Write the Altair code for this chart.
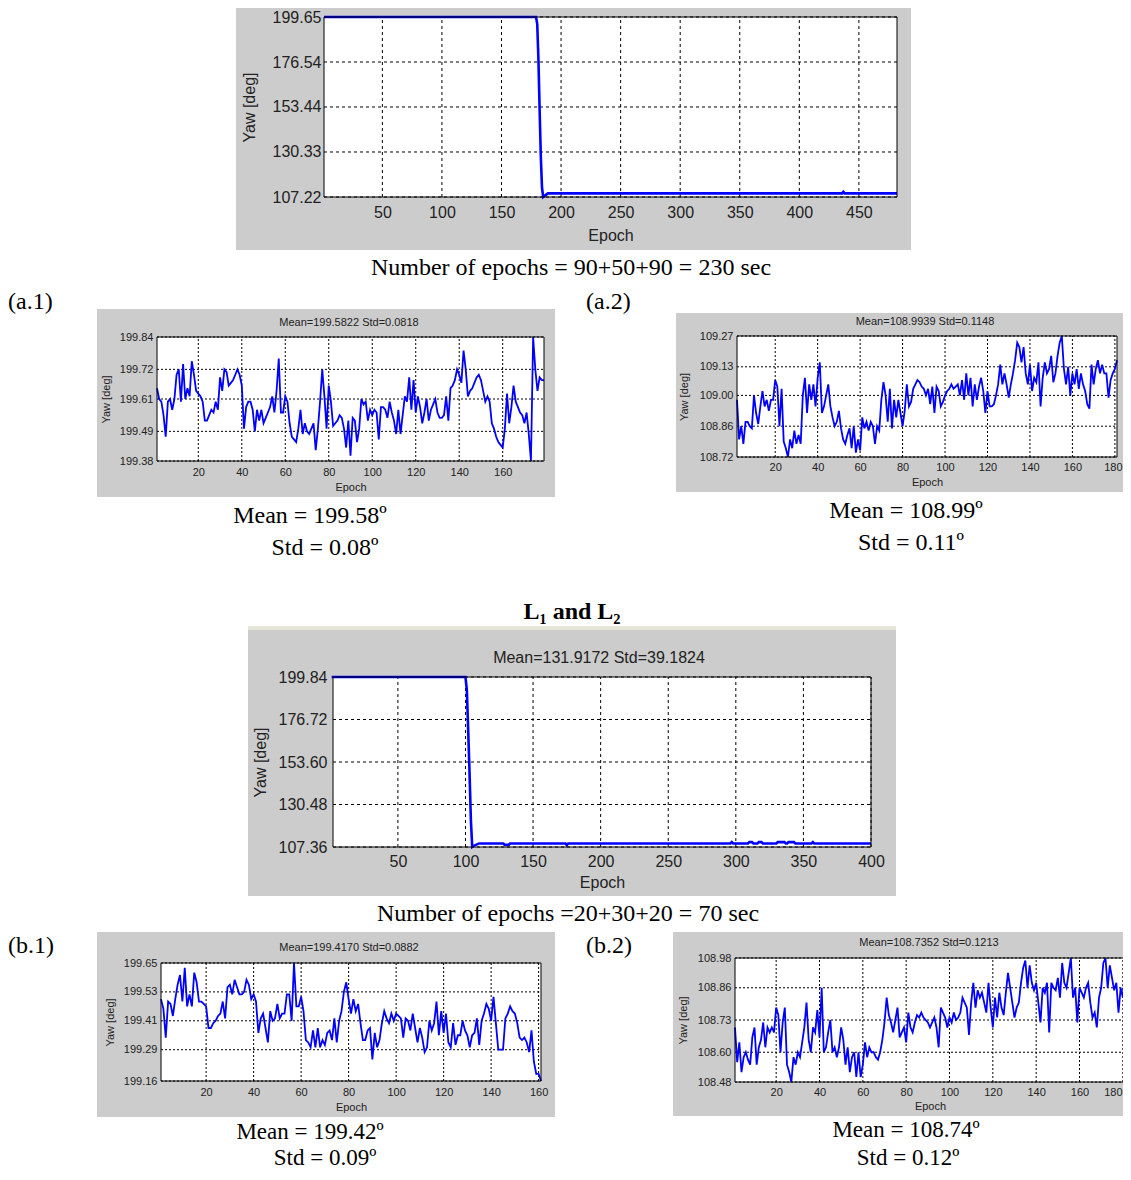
import altair as alt
import pandas as pd

W, H = 1115, 1164
GREY = "#cccccc"
SANS = "Liberation Sans"
SERIF = "Liberation Serif"
INK = "#222222"
BLUE = "#0000ff"

# ---------------- data ----------------
top_epochs = [1, 179, 180, 181, 182, 183, 184, 185, 187, 189, 436, 437, 438, 482]
top_yaw = [199.65, 199.65, 196.0, 178.0, 152.0, 128.0, 112.0, 107.22, 108.2, 109.1,
           109.1, 109.9, 109.1, 109.1]
top_xticks = [50, 100, 150, 200, 250, 300, 350, 400, 450]
top_yticks = [107.22, 130.33, 153.44, 176.54, 199.65]

a1_first_epoch = 1
a1_yaw = [199.65, 199.61, 199.60, 199.55, 199.47, 199.60, 199.61, 199.57, 199.61, 199.70,
          199.72, 199.60, 199.74, 199.61, 199.65, 199.62, 199.75, 199.70, 199.64, 199.63,
          199.62, 199.60, 199.53, 199.53, 199.55, 199.57, 199.56, 199.60, 199.57, 199.69,
          199.64, 199.72, 199.71, 199.66, 199.67, 199.68, 199.70, 199.72, 199.70, 199.66,
          199.50, 199.58, 199.60, 199.60, 199.57, 199.49, 199.57, 199.53, 199.57, 199.52,
          199.54, 199.56, 199.58, 199.62, 199.56, 199.64, 199.76, 199.56, 199.56, 199.62,
          199.60, 199.52, 199.47, 199.46, 199.45, 199.50, 199.57, 199.48, 199.52, 199.49,
          199.48, 199.50, 199.52, 199.42, 199.50, 199.60, 199.72, 199.62, 199.50, 199.66,
          199.60, 199.51, 199.52, 199.53, 199.55, 199.54, 199.50, 199.43, 199.53, 199.40,
          199.54, 199.53, 199.45, 199.50, 199.61, 199.59, 199.60, 199.53, 199.57, 199.55,
          199.57, 199.56, 199.46, 199.58, 199.58, 199.57, 199.54, 199.60, 199.56, 199.53,
          199.48, 199.57, 199.48, 199.55, 199.62, 199.60, 199.69, 199.57, 199.68, 199.56,
          199.62, 199.58, 199.52, 199.56, 199.61, 199.53, 199.57, 199.59, 199.61, 199.56,
          199.54, 199.54, 199.55, 199.62, 199.53, 199.65, 199.66, 199.68, 199.72, 199.70,
          199.67, 199.79, 199.72, 199.62, 199.64, 199.65, 199.67, 199.69, 199.70, 199.68,
          199.64, 199.60, 199.62, 199.60, 199.52, 199.50, 199.47, 199.45, 199.44, 199.43,
          199.50, 199.63, 199.52, 199.58, 199.66, 199.60, 199.58, 199.56, 199.55, 199.52,
          199.56, 199.48, 199.38, 199.84, 199.72, 199.64, 199.69, 199.68, 199.68]
a1_xticks = [20, 40, 60, 80, 100, 120, 140, 160]
a1_yticks = [199.38, 199.49, 199.61, 199.72, 199.84]

a2_first_epoch = 2
a2_yaw = [108.98, 108.80, 108.86, 108.78, 108.88, 108.88, 108.86, 108.85, 109.00, 108.92,
          108.87, 108.95, 109.02, 108.95, 108.98, 108.93, 108.98, 108.98, 109.07, 109.04,
          108.86, 109.03, 108.79, 108.76, 108.72, 108.80, 108.76, 108.84, 108.78, 108.82,
          108.78, 109.00, 109.08, 108.92, 109.05, 108.98, 109.05, 108.95, 109.08, 109.15,
          108.92, 108.95, 109.00, 109.05, 108.95, 108.90, 108.86, 108.88, 108.93, 108.85,
          108.80, 108.78, 108.82, 108.85, 108.76, 108.86, 108.74, 108.80, 108.75, 108.90,
          108.85, 108.88, 108.84, 108.88, 108.86, 108.78, 108.86, 108.84, 108.98, 109.06,
          109.00, 108.88, 109.03, 108.85, 108.98, 108.90, 108.98, 108.92, 108.86, 108.93,
          109.05, 108.95, 108.97, 109.03, 109.05, 109.07, 109.06, 109.04, 109.03, 109.00,
          109.03, 108.96, 109.04, 108.92, 109.04, 109.02, 108.95, 108.97, 109.00, 109.02,
          109.03, 109.05, 109.03, 109.04, 109.05, 109.00, 109.07, 108.98, 109.10, 109.00,
          109.08, 108.95, 109.05, 108.98, 109.04, 109.08, 109.02, 108.92, 109.02, 108.95,
          108.95, 108.96, 109.00, 109.05, 109.14, 109.05, 109.10, 109.05, 108.99, 109.05,
          109.10, 109.16, 109.24, 109.22, 109.15, 109.22, 109.10, 109.05, 109.14, 109.02,
          109.08, 109.06, 109.15, 108.95, 109.08, 109.15, 109.10, 109.12, 109.18, 109.06,
          109.10, 109.18, 109.24, 109.27, 109.12, 109.05, 109.13, 109.00, 109.10, 109.05,
          109.12, 109.03, 109.10, 109.05, 109.02, 108.96, 108.94, 109.14, 109.05, 109.12,
          109.16, 109.10, 109.14, 109.10, 109.10, 108.99, 109.07, 109.10, 109.12, 109.16]
a2_xticks = [20, 40, 60, 80, 100, 120, 140, 160, 180]
a2_yticks = [108.72, 108.86, 109.00, 109.13, 109.27]

mid_epochs = [1, 100, 101, 102, 103, 104, 105, 107, 110, 128, 129, 132, 133, 174, 175, 176,
              296, 297, 298, 309, 310, 312, 313, 316, 317, 319, 320, 330, 331, 336, 337,
              338, 339, 343, 344, 356, 357, 358, 400]
mid_yaw = [199.84, 199.84, 193.0, 171.0, 148.0, 122.0, 107.36, 108.3, 109.3, 109.3, 108.5,
           108.5, 109.3, 109.3, 108.4, 109.3, 109.3, 110.0, 109.3, 109.3, 110.0, 110.0,
           109.3, 109.3, 110.0, 110.0, 109.3, 109.3, 110.0, 110.0, 109.3, 109.3, 110.0,
           110.0, 109.3, 109.3, 110.0, 109.3, 109.3]
mid_xticks = [50, 100, 150, 200, 250, 300, 350, 400]
mid_yticks = [107.36, 130.48, 153.60, 176.72, 199.84]

b1_first_epoch = 1
b1_yaw = [199.50, 199.46, 199.34, 199.49, 199.48, 199.43, 199.50, 199.56, 199.60, 199.49,
          199.63, 199.47, 199.52, 199.47, 199.61, 199.57, 199.49, 199.49, 199.48, 199.47,
          199.38, 199.38, 199.40, 199.41, 199.43, 199.44, 199.49, 199.42, 199.55, 199.56,
          199.52, 199.58, 199.55, 199.52, 199.52, 199.53, 199.58, 199.56, 199.50, 199.52,
          199.49, 199.36, 199.42, 199.44, 199.38, 199.32, 199.45, 199.41, 199.42, 199.48,
          199.42, 199.44, 199.44, 199.52, 199.52, 199.41, 199.65, 199.47, 199.47, 199.51,
          199.45, 199.33, 199.32, 199.30, 199.37, 199.30, 199.38, 199.30, 199.33, 199.31,
          199.36, 199.37, 199.33, 199.42, 199.32, 199.41, 199.45, 199.53, 199.57, 199.50,
          199.44, 199.50, 199.45, 199.48, 199.40, 199.33, 199.33, 199.37, 199.38, 199.25,
          199.36, 199.30, 199.33, 199.40, 199.45, 199.42, 199.40, 199.44, 199.41, 199.44,
          199.43, 199.42, 199.34, 199.42, 199.41, 199.37, 199.44, 199.38, 199.32, 199.38,
          199.34, 199.28, 199.30, 199.41, 199.37, 199.40, 199.49, 199.35, 199.45, 199.36,
          199.44, 199.32, 199.30, 199.40, 199.31, 199.35, 199.35, 199.41, 199.37, 199.35,
          199.30, 199.35, 199.36, 199.42, 199.31, 199.41, 199.44, 199.48, 199.46, 199.41,
          199.51, 199.40, 199.29, 199.29, 199.29, 199.42, 199.44, 199.47, 199.45, 199.44,
          199.40, 199.34, 199.33, 199.34, 199.32, 199.28, 199.37, 199.24, 199.19, 199.19,
          199.16]
b1_xticks = [20, 40, 60, 80, 100, 120, 140, 160]
b1_yticks = [199.16, 199.29, 199.41, 199.53, 199.65]

b2_first_epoch = 1
b2_yaw = [108.70, 108.56, 108.64, 108.52, 108.58, 108.60, 108.57, 108.55, 108.66, 108.70,
          108.55, 108.62, 108.65, 108.72, 108.62, 108.70, 108.68, 108.70, 108.68, 108.78,
          108.75, 108.60, 108.72, 108.78, 108.55, 108.52, 108.48, 108.58, 108.55, 108.60,
          108.58, 108.64, 108.70, 108.80, 108.65, 108.60, 108.70, 108.68, 108.77, 108.66,
          108.86, 108.60, 108.62, 108.68, 108.73, 108.60, 108.62, 108.58, 108.62, 108.70,
          108.65, 108.55, 108.62, 108.52, 108.58, 108.60, 108.50, 108.60, 108.50, 108.55,
          108.64, 108.58, 108.62, 108.60, 108.60, 108.58, 108.57, 108.60, 108.65, 108.72,
          108.82, 108.75, 108.72, 108.68, 108.73, 108.78, 108.66, 108.68, 108.70, 108.64,
          108.76, 108.70, 108.68, 108.72, 108.75, 108.74, 108.76, 108.74, 108.73, 108.72,
          108.70, 108.72, 108.74, 108.70, 108.62, 108.78, 108.76, 108.74, 108.70, 108.74,
          108.72, 108.76, 108.73, 108.74, 108.76, 108.82, 108.80, 108.78, 108.67, 108.80,
          108.88, 108.78, 108.85, 108.82, 108.84, 108.80, 108.76, 108.88, 108.78, 108.70,
          108.82, 108.74, 108.84, 108.78, 108.75, 108.84, 108.92, 108.86, 108.80, 108.74,
          108.78, 108.80, 108.88, 108.94, 108.97, 108.86, 108.95, 108.88, 108.85, 108.88,
          108.80, 108.72, 108.86, 108.84, 108.88, 108.68, 108.88, 108.86, 108.85, 108.90,
          108.82, 108.96, 108.88, 108.86, 108.92, 108.98, 108.82, 108.86, 108.72, 108.86,
          108.84, 108.82, 108.86, 108.88, 108.80, 108.74, 108.76, 108.70, 108.82, 108.86,
          108.96, 108.98, 108.86, 108.95, 108.90, 108.85, 108.88, 108.76, 108.86, 108.82,
          108.93]
b2_xticks = [20, 40, 60, 80, 100, 120, 140, 160, 180]
b2_yticks = [108.48, 108.60, 108.73, 108.86, 108.98]


def series(epochs, yaw):
    return pd.DataFrame({"epoch": epochs, "yaw": yaw})


def indexed(first, yaw):
    return series(list(range(first, first + len(yaw))), yaw)


# ---------------- layout (canvas pixels) ----------------
LAY = {
    "top": dict(xdom=[1, 482], px=(316, 889), py=(9, 189), grey=(228, 903, 0, 242),
                fs=16, lw=2.6, xlp=7, ylp=3, xty=227, ytx=241, title=None, edge=0),
    "a1": dict(xdom=[1, 179], px=(149, 536), py=(329, 453), grey=(89, 547, 301, 489),
               fs=11, lw=1.8, xlp=5, ylp=4, xty=479, ytx=98, edge=0,
               title=("Mean=199.5822 Std=0.0818", 341, 315)),
    "a2": dict(xdom=[2, 181], px=(729, 1109), py=(328, 449), grey=(668, 1115, 305, 484),
               fs=11, lw=1.8, xlp=4, ylp=4, xty=474, ytx=676, edge=-2,
               title=("Mean=108.9939 Std=0.1148", 917, 314)),
    "mid": dict(xdom=[2, 400], px=(325, 863), py=(669, 839), grey=(240, 888, 622, 888),
                fs=16, lw=2.6, xlp=6, ylp=6, xty=874, ytx=252, edge=0,
                title=("Mean=131.9172 Std=39.1824", 591, 650)),
    "b1": dict(xdom=[1, 161], px=(153, 533), py=(955, 1073), grey=(89, 547, 924, 1109),
               fs=11, lw=1.8, xlp=5, ylp=4, xty=1099, ytx=102, edge=0,
               title=("Mean=199.4170 Std=0.0882", 341, 940)),
    "b2": dict(xdom=[1, 181], px=(727, 1117), py=(950, 1074), grey=(665, 1115, 924, 1108),
               fs=11, lw=1.8, xlp=4, ylp=4, xty=1098, ytx=675, edge=-10,
               title=("Mean=108.7352 Std=0.1213", 921, 935)),
}


def panel(df, xticks, yticks, g):
    """Return the list of mark layers of one panel (all share identical explicit scales)."""
    xdom = g["xdom"]
    ydom = [yticks[0], yticks[-1]]
    px0, px1 = g["px"]
    py0, py1 = g["py"]
    gx0, gx1, gy0, gy1 = g["grey"]

    def xs():
        return alt.Scale(domain=xdom, range=[px0, px1], zero=False, nice=False)

    def ys():
        return alt.Scale(domain=ydom, range=[py1, py0], zero=False, nice=False)

    bg = alt.Chart().mark_rect(color=GREY).encode(
        x=alt.value(gx0), x2=alt.value(gx1), y=alt.value(gy0), y2=alt.value(gy1))

    def box(**kw):
        return alt.Chart().mark_rect(**kw).encode(
            x=alt.XDatum(xdom[0], type="quantitative", scale=xs(), axis=None),
            x2=alt.X2Datum(xdom[1]),
            y=alt.YDatum(ydom[0], type="quantitative", scale=ys(), axis=None),
            y2=alt.Y2Datum(ydom[1]))

    white = box(color="white")
    dash = [2, 2] if g["fs"] < 14 else [3, 3]
    xgrid = alt.Chart(pd.DataFrame({"t": xticks})).mark_rule(
        color="black", strokeDash=dash, strokeWidth=1).encode(
        x=alt.X("t:Q", scale=xs(), axis=None),
        y=alt.YDatum(ydom[0], type="quantitative", scale=ys(), axis=None),
        y2=alt.Y2Datum(ydom[1]))
    ygrid = alt.Chart(pd.DataFrame({"t": yticks})).mark_rule(
        color="black", strokeDash=dash, strokeWidth=1).encode(
        y=alt.Y("t:Q", scale=ys(), axis=None),
        x=alt.XDatum(xdom[0], type="quantitative", scale=xs(), axis=None),
        x2=alt.X2Datum(xdom[1]))

    fs = g["fs"]
    common = dict(grid=False, ticks=False, domain=False, labelFont=SANS,
                  labelFontSize=fs, labelColor=INK, labelFlush=False, labelOverlap=False,
                  titleFont=SANS, titleFontSize=fs, titleFontWeight="normal",
                  titleColor=INK, zindex=2)
    xextra = {}
    if g["edge"]:
        # nudge the last tick label so that it stays inside the page
        xextra["labelOffset"] = {"condition": {"test": f"datum.value == {xticks[-1]}",
                                               "value": g["edge"]}, "value": 0}
    xaxis = alt.Axis(orient="bottom", offset=py1 - H, values=xticks, format="d",
                     title="Epoch", labelPadding=g["xlp"], titleY=g["xty"] - py1,
                     titleBaseline="middle", **xextra, **common)
    yaxis = alt.Axis(orient="left", offset=-px0, values=yticks, format=".2f",
                     title="Yaw [deg]", labelPadding=g["ylp"], titleX=g["ytx"] - px0,
                     titleBaseline="middle", **common)
    line = alt.Chart(df).mark_line(color=BLUE, strokeWidth=g["lw"]).encode(
        x=alt.X("epoch:Q", scale=xs(), axis=xaxis),
        y=alt.Y("yaw:Q", scale=ys(), axis=yaxis))
    frame = box(filled=False, color="black", strokeWidth=1)

    layers = [bg, white, xgrid, ygrid, line, frame]
    if g["title"]:
        txt, tx, ty = g["title"]
        layers.append(alt.Chart().mark_text(
            text=txt, font=SANS, fontSize=fs, color=INK, align="center",
            baseline="middle").encode(x=alt.value(tx), y=alt.value(ty)))
    return layers


def caption(txt, x, y, align="center", bold=False, size=24):
    return alt.Chart().mark_text(
        text=txt, font=SERIF, fontSize=size, color="black", align=align,
        baseline="middle", fontWeight="bold" if bold else "normal").encode(
        x=alt.value(x), y=alt.value(y))


marks = []
marks += panel(series(top_epochs, top_yaw), top_xticks, top_yticks, LAY["top"])
marks += panel(indexed(a1_first_epoch, a1_yaw), a1_xticks, a1_yticks, LAY["a1"])
marks += panel(indexed(a2_first_epoch, a2_yaw), a2_xticks, a2_yticks, LAY["a2"])
marks += panel(series(mid_epochs, mid_yaw), mid_xticks, mid_yticks, LAY["mid"])
marks += panel(indexed(b1_first_epoch, b1_yaw), b1_xticks, b1_yticks, LAY["b1"])
marks += panel(indexed(b2_first_epoch, b2_yaw), b2_xticks, b2_yticks, LAY["b2"])

strip = alt.Chart().mark_rect(color="#e4e4d8").encode(
    x=alt.value(240), x2=alt.value(888), y=alt.value(618), y2=alt.value(622))

captions = [
    caption("Number of epochs = 90+50+90 = 230 sec", 563, 260),
    caption("(a.1)", 0, 294, align="left"),
    caption("(a.2)", 578, 294, align="left"),
    caption("Mean = 199.58º", 302, 508),
    caption("Std = 0.08º", 317, 540),
    caption("Mean = 108.99º", 898, 503),
    caption("Std = 0.11º", 903, 535),
    caption("L₁ and L₂", 564, 604, bold=True),
    caption("Number of epochs =20+30+20 = 70 sec", 560, 906),
    caption("(b.1)", 0, 938, align="left"),
    caption("(b.2)", 578, 938, align="left"),
    caption("Mean = 199.42º", 302, 1124, size=23),
    caption("Std = 0.09º", 317, 1150, size=23),
    caption("Mean = 108.74º", 898, 1122, size=23),
    caption("Std = 0.12º", 900, 1150, size=23),
]

chart = alt.layer(strip, *marks, *captions).resolve_scale(
    x="independent", y="independent"
).properties(
    width=W, height=H, padding=0, background="white",
    autosize=alt.AutoSizeParams(type="none"),
).configure_view(stroke=None)

chart.save("out.html", embed_options={"renderer": "svg", "actions": False})
